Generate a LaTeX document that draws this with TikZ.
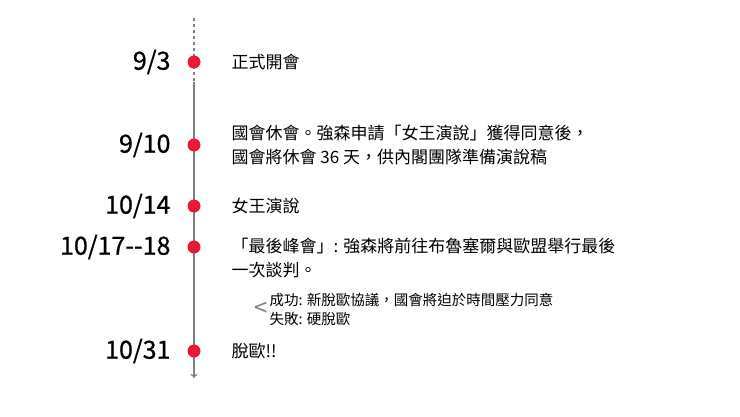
\documentclass[tikz,border=0pt]{standalone}
\usepackage{fontspec}
\usetikzlibrary{arrows.meta}
\setmainfont{Noto Sans CJK TC}
\newfontfamily\datefont[FakeBold=0.8]{Noto Sans CJK TC}
\begin{document}
\begin{tikzpicture}[x=1pt,y=-1pt,
  datelab/.style={anchor=east,font=\datefont\fontsize{25}{26}\selectfont},
  evt/.style={anchor=west,align=left,font=\fontsize{17}{24}\selectfont},
  sub/.style={anchor=west,align=left,font=\fontsize{14.5}{19}\selectfont},
  dot/.style={circle,fill={rgb,255:red,230;green,25;blue,55},minimum size=13pt,inner sep=0pt}]
\useasboundingbox (0,0) rectangle (740,416);
\coordinate (top) at (194,18);
\coordinate (mid) at (194,82);
\coordinate (bot) at (194,378);
\draw[gray,line width=1.2pt,dashed] (top) -- (mid);
\draw[gray,line width=1.2pt,-{To[length=4pt,width=7pt]}] (mid) -- (bot);
\node[dot] (d1) at (194,62) {};
\node[dot] (d2) at (194,145) {};
\node[dot] (d3) at (194,206) {};
\node[dot] (d4) at (194,247) {};
\node[dot] (d5) at (194,351) {};
\node[datelab] (l1) at (174,62) {9/3};
\node[datelab] (l2) at (174,145) {9/10};
\node[datelab] (l3) at (174,206) {10/14};
\node[datelab] (l4) at (174,247) {10/17--18};
\node[datelab] (l5) at (174,351) {10/31};
\node[evt] (e1) at (228,62) {正式開會};
\node[evt] (e2) at (228,145) {國會休會。強森申請「女王演說」獲得同意後，\\國會將休會 36 天，供內閣團隊準備演說稿};
\node[evt] (e3) at (228,206) {女王演說};
\node[evt] (e4) at (228,258) {「最後峰會」: 強森將前往布魯塞爾與歐盟舉行最後\\一次談判。};
\node[sub] (s) at (266,309) {成功: 新脫歐協議，國會將迫於時間壓力同意\\失敗: 硬脫歐};
\node[gray,font=\fontsize{24}{24}\selectfont] (lt) at (261,309) {<};
\node[evt] (e5) at (228,351) {脫歐!!};
\end{tikzpicture}
\end{document}
